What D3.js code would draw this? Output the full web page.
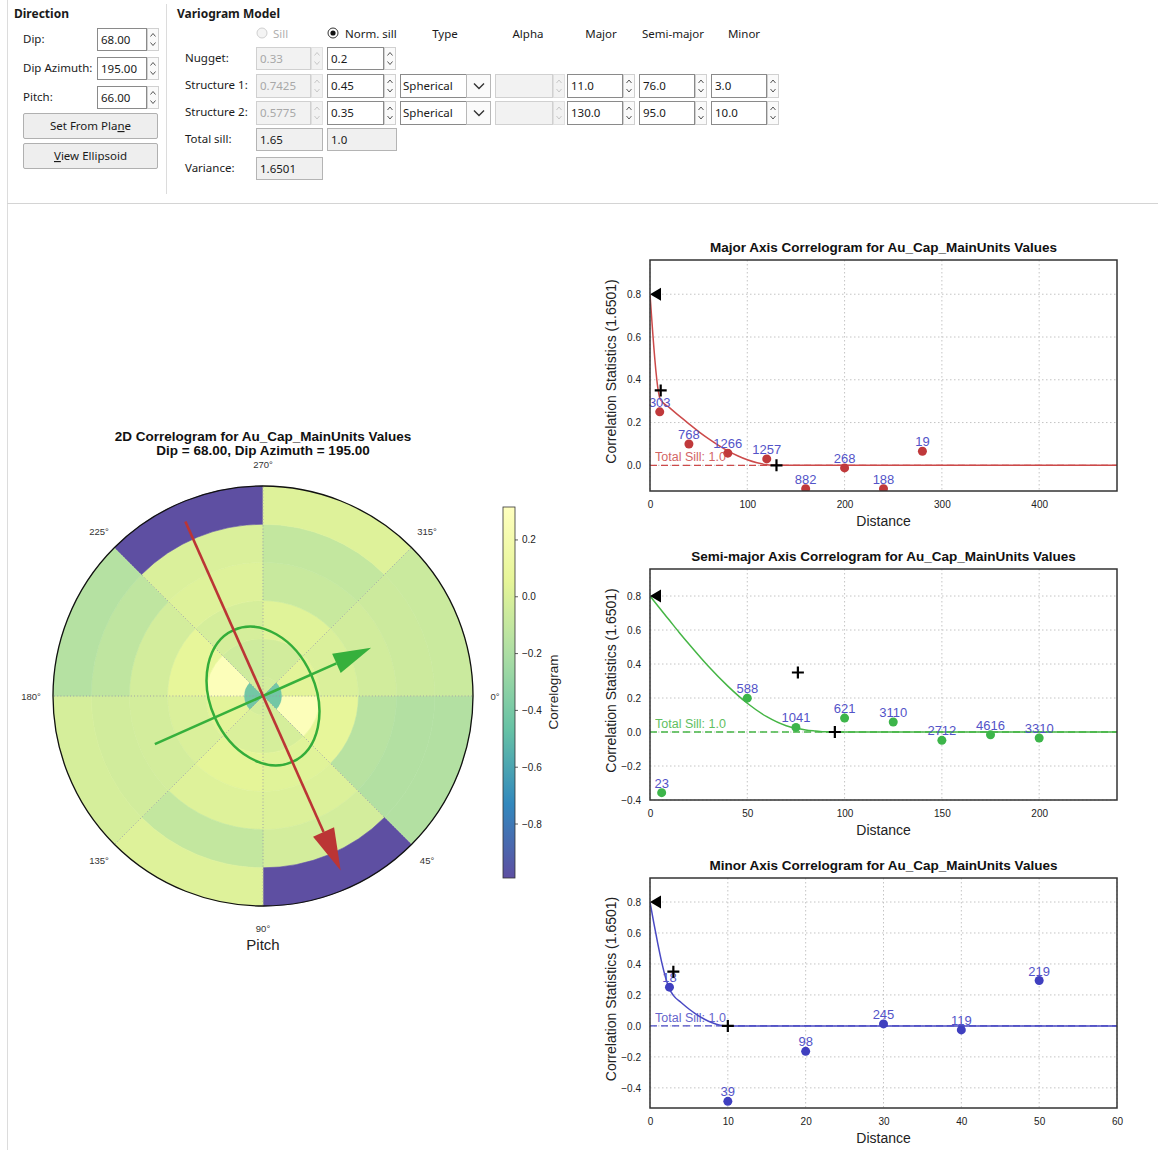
<!DOCTYPE html>
<html><head><meta charset="utf-8">
<script src="https://cdn.jsdelivr.net/npm/d3@7"></script>
<style>
html,body{margin:0;padding:0;background:#fff;}
svg{display:block;}
</style></head><body>
<svg id="c" width="1158" height="1150"></svg>
<script>
// ================= DATA =================
// Top panel
const directionLabels = ["Dip:", "Dip Azimuth:", "Pitch:"];
const directionValues = ["68.00", "195.00", "66.00"];
const directionButtons = ["Set From Plane", "View Ellipsoid"];
const modelRowLabels = ["Nugget:", "Structure 1:", "Structure 2:", "Total sill:", "Variance:"];
const sillValues = ["0.33", "0.7425", "0.5775"];
const normSillValues = ["0.2", "0.45", "0.35"];
const totalSillValues = ["1.65", "1.0"];
const varianceValue = "1.6501";
const structureTypes = ["Spherical", "Spherical"];
const modelHeaders = ["Type", "Alpha", "Major", "Semi-major", "Minor"];
const rangeMajor = ["11.0", "130.0"];
const rangeSemiMajor = ["76.0", "95.0"];
const rangeMinor = ["3.0", "10.0"];

// 2D polar correlogram
const pitchBinStarts = [0, 45, 90, 135, 180, 225, 270, 315];
const pitchTickLabels = ["0°", "45°", "90°", "135°", "180°", "225°", "270°", "315°"];
const lagEdges = [0, 0.5, 1.5, 2.5, 3.5, 4.5, 5.5];
const corrPitch0   = [-0.42, 0.28, 0.07, -0.15, -0.17, -0.17];
const corrPitch45  = [-0.03, -0.02, 0.03, 0.01, -0.03, -0.99];
const corrPitch90  = [-0.03, 0.00, 0.05, 0.02, -0.10, 0.02];
const corrPitch135 = [-0.42, 0.04, 0.00, -0.03, -0.04, -0.02];
const corrPitch180 = [-0.42, 0.28, 0.07, -0.03, -0.12, -0.16];
const corrPitch225 = [-0.03, -0.05, -0.02, 0.02, 0.00, -0.99];
const corrPitch270 = [-0.03, -0.04, 0.03, -0.08, -0.10, 0.02];
const corrPitch315 = [-0.42, 0.04, 0.00, -0.04, -0.06, -0.07];
const pitchAngle = 66;
const majorArrowLag = 5.0, minorArrowLag = 3.1;
const ellipseMajorLag = 1.89, ellipseSemiLag = 1.38;
const colorbarDomain = [-0.99, 0.316];
const colorbarTicks = [0.2, 0.0, -0.2, -0.4, -0.6, -0.8];
const colorStops = ["#5e4fa2", "#3288bd", "#66c2a5", "#abdda4", "#e6f598", "#ffffbf"];

// Major axis
const majorDistance = [10, 40, 80, 120, 160, 200, 240, 280];
const majorCorr = [0.25, 0.10, 0.057, 0.03, -0.109, -0.012, -0.109, 0.066];
const majorPairs = [303, 768, 1266, 1257, 882, 268, 188, 19];
const majorModelDist = [0, 1, 2, 3, 4, 5, 6, 7, 8, 9, 10, 11, 20, 30, 40, 50, 60, 70, 80, 90, 100, 110, 120, 130, 480];
const majorModelCorr = [0.8, 0.735, 0.671, 0.608, 0.549, 0.494, 0.444, 0.400, 0.363, 0.335, 0.315, 0.306, 0.270, 0.231, 0.194, 0.158, 0.125, 0.095, 0.068, 0.045, 0.026, 0.012, 0.003, 0, 0];
const majorPlusX = [11, 130], majorPlusY = [0.35, 0];
const majorXTicks = [0, 100, 200, 300, 400];
const majorYTicks = [0.0, 0.2, 0.4, 0.6, 0.8];

// Semi-major axis
const semiDistance = [6, 50, 75, 100, 125, 150, 175, 200];
const semiCorr = [-0.357, 0.199, 0.027, 0.082, 0.059, -0.049, -0.016, -0.035];
const semiPairs = [23, 588, 1041, 621, 3110, 2712, 4616, 3310];
const semiModelDist = [0, 5, 10, 15, 20, 30, 40, 50, 60, 70, 76, 80, 85, 90, 95, 240];
const semiModelCorr = [0.8, 0.728, 0.657, 0.586, 0.518, 0.387, 0.270, 0.169, 0.090, 0.037, 0.020, 0.012, 0.006, 0.001, 0, 0];
const semiPlusX = [76, 95], semiPlusY = [0.35, 0];
const semiXTicks = [0, 50, 100, 150, 200];
const semiYTicks = [-0.4, -0.2, 0.0, 0.2, 0.4, 0.6, 0.8];

// Minor axis
const minorDistance = [2.5, 10, 20, 30, 40, 50];
const minorCorr = [0.25, -0.487, -0.164, 0.013, -0.026, 0.293];
const minorPairs = [18, 39, 98, 245, 119, 219];
const minorModelDist = [0, 0.5, 1, 1.5, 2, 2.5, 3, 4, 5, 6, 7, 8, 9, 10, 60];
const minorModelCorr = [0.8, 0.662, 0.531, 0.412, 0.313, 0.239, 0.197, 0.151, 0.109, 0.073, 0.043, 0.020, 0.005, 0, 0];
const minorPlusX = [3, 10], minorPlusY = [0.35, 0];
const minorXTicks = [0, 10, 20, 30, 40, 50, 60];
const minorYTicks = [-0.4, -0.2, 0.0, 0.2, 0.4, 0.6, 0.8];

const nuggetCorr = 0.8;
const totalSillLabel = "Total Sill: 1.0";

// ================= DRAWING =================
const svg = d3.select("#c");
const UI_FONT = "'Noto Sans', 'Open Sans', sans-serif";
const CH_FONT = "'Liberation Sans', Arial, sans-serif";
const defs = svg.append("defs");
svg.append("rect").attr("width", 1158).attr("height", 1150).attr("fill", "#fff");

// ---- separators ----
svg.append("line").attr("x1", 7.5).attr("x2", 7.5).attr("y1", 0).attr("y2", 1150).attr("stroke", "#dcdcdc");
svg.append("line").attr("x1", 7).attr("x2", 1158).attr("y1", 203.5).attr("y2", 203.5).attr("stroke", "#d4d4d4");
svg.append("line").attr("x1", 166.5).attr("x2", 166.5).attr("y1", 4).attr("y2", 194).attr("stroke", "#dcdcdc");

function uiText(x, y, t, opts = {}) {
  return svg.append("text").attr("x", x).attr("y", y).text(t)
    .attr("font-family", UI_FONT).attr("font-size", opts.size || 11.5)
    .attr("font-weight", opts.bold ? "bold" : "normal")
    .attr("fill", opts.color || "#1a1a1a")
    .attr("text-anchor", opts.anchor || "start");
}
function spinBox(x, y, w, h, text, disabled) {
  const g = svg.append("g");
  g.append("rect").attr("x", x + 0.5).attr("y", y + 0.5).attr("width", w).attr("height", h)
    .attr("fill", disabled ? "#f2f2f2" : "#fff").attr("stroke", disabled ? "#d0d0d0" : "#8a8a8a");
  const sx = x + w + 1;
  g.append("rect").attr("x", sx + 0.5).attr("y", y + 0.5).attr("width", 11).attr("height", h)
    .attr("fill", disabled ? "#f2f2f2" : "#fafafa").attr("stroke", disabled ? "#e0e0e0" : "#d0d0d0");
  const cy = y + h / 2 + 0.5, ac = disabled ? "#c8c8c8" : "#555";
  g.append("path").attr("d", `M${sx + 3.5},${cy - 3} L${sx + 6},${cy - 6} L${sx + 8.5},${cy - 3}`).attr("fill", "none").attr("stroke", ac);
  g.append("path").attr("d", `M${sx + 3.5},${cy + 3} L${sx + 6},${cy + 6} L${sx + 8.5},${cy + 3}`).attr("fill", "none").attr("stroke", ac);
  if (text) uiText(x + 4, y + h / 2 + 4.5, text, { color: disabled ? "#a8a8a8" : "#1a1a1a" });
}
function plainBox(x, y, w, h, text) {
  svg.append("rect").attr("x", x + 0.5).attr("y", y + 0.5).attr("width", w).attr("height", h)
    .attr("fill", "#f0f0f0").attr("stroke", "#b4b4b4");
  uiText(x + 4, y + h / 2 + 4.5, text);
}

// Direction group
uiText(14, 18, "Direction", { bold: true, size: 12 });
const dirRowsY = [28, 57, 86];
directionLabels.forEach((l, i) => {
  uiText(23, dirRowsY[i] + 15, l);
  spinBox(97, dirRowsY[i], 49, 22, directionValues[i], false);
});
const btnY = [113, 143];
directionButtons.forEach((b, i) => {
  svg.append("rect").attr("x", 23.5).attr("y", btnY[i] + 0.5).attr("width", 134).attr("height", 25).attr("rx", 1.5)
    .attr("fill", "#eeeeee").attr("stroke", "#b0b0b0");
  const t = svg.append("text").attr("x", 90.5).attr("y", btnY[i] + 17).attr("text-anchor", "middle")
    .attr("font-family", UI_FONT).attr("font-size", 11.5).attr("fill", "#1a1a1a");
  if (i === 0) {
    t.append("tspan").text("Set From Pla");
    t.append("tspan").text("n").attr("text-decoration", "underline");
    t.append("tspan").text("e");
  } else {
    t.append("tspan").text("V").attr("text-decoration", "underline");
    t.append("tspan").text("iew Ellipsoid");
  }
});

// Variogram model group
uiText(177, 18, "Variogram Model", { bold: true, size: 12 });
svg.append("circle").attr("cx", 262).attr("cy", 33).attr("r", 5).attr("fill", "#f4f4f4").attr("stroke", "#d0d0d0");
uiText(273, 38, "Sill", { color: "#b0b0b0" });
svg.append("circle").attr("cx", 333).attr("cy", 33).attr("r", 5).attr("fill", "#fff").attr("stroke", "#333");
svg.append("circle").attr("cx", 333).attr("cy", 33).attr("r", 2.6).attr("fill", "#111");
uiText(345, 38, "Norm. sill");
const headerX = [445, 528, 601, 673, 744];
modelHeaders.forEach((h, i) => uiText(headerX[i], 38, h, { anchor: "middle" }));
const rowY = [47, 74, 101, 128, 157];
const rowH = [22, 23, 23, 22, 22];
modelRowLabels.forEach((l, i) => uiText(185, rowY[i] + 15, l));
for (let i = 0; i < 3; i++) {
  spinBox(256, rowY[i], 54, rowH[i], sillValues[i], true);
  spinBox(327, rowY[i], 56, rowH[i], normSillValues[i], false);
}
for (let k = 0; k < 2; k++) {
  const y = rowY[k + 1], h = rowH[k + 1];
  svg.append("rect").attr("x", 400.5).attr("y", y + 0.5).attr("width", 66).attr("height", h).attr("fill", "#fff").attr("stroke", "#8a8a8a");
  svg.append("rect").attr("x", 466.5).attr("y", y + 0.5).attr("width", 24).attr("height", h).attr("fill", "#fafafa").attr("stroke", "#b8b8b8");
  svg.append("path").attr("d", `M${474},${y + h / 2 - 2} L${479},${y + h / 2 + 3} L${484},${y + h / 2 - 2}`)
    .attr("fill", "none").attr("stroke", "#333").attr("stroke-width", 1.4);
  uiText(403, y + h / 2 + 4.5, structureTypes[k]);
  spinBox(495, y, 57, h, "", true);
  spinBox(567, y, 55, h, rangeMajor[k], false);
  spinBox(639, y, 55, h, rangeSemiMajor[k], false);
  spinBox(711, y, 55, h, rangeMinor[k], false);
}
plainBox(256, rowY[3], 66, rowH[3], totalSillValues[0]);
plainBox(327, rowY[3], 69, rowH[3], totalSillValues[1]);
plainBox(256, rowY[4], 66, rowH[4], varianceValue);

// ---- color scale ----
const cbStep = (colorbarDomain[1] - colorbarDomain[0]) / (colorStops.length - 1);
const color = d3.scaleLinear()
  .domain(colorStops.map((c, i) => colorbarDomain[0] + i * cbStep))
  .range(colorStops).clamp(true);

// ---- Polar chart ----
const chartText = (g, x, y, t, size, opts = {}) => g.append("text").attr("x", x).attr("y", y).text(t)
  .attr("font-family", CH_FONT).attr("font-size", size).attr("font-weight", opts.bold ? "bold" : "normal")
  .attr("fill", opts.color || "#111").attr("text-anchor", opts.anchor || "middle");

chartText(svg, 263, 441, "2D Correlogram for Au_Cap_MainUnits Values", 13.5, { bold: true });
chartText(svg, 263, 455, "Dip = 68.00, Dip Azimuth = 195.00", 13.5, { bold: true });

const gp = svg.append("g").attr("transform", "translate(263,696)");
const rScale = d3.scaleLinear().domain([0, lagEdges[lagEdges.length - 1]]).range([0, 210]);
const arcAngle = d3.scaleLinear().domain([0, 360]).range([Math.PI / 2, Math.PI / 2 + 2 * Math.PI]);
const corrGrid = [corrPitch0, corrPitch45, corrPitch90, corrPitch135, corrPitch180, corrPitch225, corrPitch270, corrPitch315];
const cells = [];
pitchBinStarts.forEach((a, i) => corrGrid[i].forEach((v, j) => cells.push({ a, j, v })));
const arcGen = d3.arc();
gp.selectAll("path.cell").data(cells).join("path").attr("class", "cell")
  .attr("d", d => arcGen({ innerRadius: rScale(lagEdges[d.j]), outerRadius: rScale(lagEdges[d.j + 1]), startAngle: arcAngle(d.a), endAngle: arcAngle(d.a + 45) }))
  .attr("fill", d => color(d.v)).attr("stroke", d => color(d.v)).attr("stroke-width", 0.6);
const polarPt = (deg, lag) => [rScale(lag) * Math.cos(deg * Math.PI / 180), rScale(lag) * Math.sin(deg * Math.PI / 180)];
const rMax = lagEdges[lagEdges.length - 1];
gp.selectAll("line.rgrid").data(pitchBinStarts).join("line").attr("class", "rgrid")
  .attr("x1", 0).attr("y1", 0)
  .attr("x2", d => polarPt(d, rMax)[0]).attr("y2", d => polarPt(d, rMax)[1])
  .attr("stroke", "#9a9aaa").attr("stroke-width", 0.9).attr("stroke-dasharray", "1,2.2");
gp.append("circle").attr("r", rScale(rMax)).attr("fill", "none").attr("stroke", "#111").attr("stroke-width", 1.3);
gp.selectAll("text.ang").data(pitchBinStarts).join("text").attr("class", "ang")
  .attr("x", d => polarPt(d, rMax * 232 / 210)[0]).attr("y", d => polarPt(d, rMax * 232 / 210)[1] + 3.5)
  .attr("text-anchor", "middle").attr("font-family", CH_FONT).attr("font-size", 9.5).attr("fill", "#333")
  .text((d, i) => pitchTickLabels[i]);

// ellipse
gp.append("ellipse").attr("rx", rScale(ellipseMajorLag)).attr("ry", rScale(ellipseSemiLag))
  .attr("transform", `rotate(${pitchAngle})`).attr("fill", "none").attr("stroke", "#34ad3a").attr("stroke-width", 2.5);
function arrow(angleDeg, lag, col, headLen, headHalf) {
  const t = angleDeg * Math.PI / 180, ux = Math.cos(t), uy = Math.sin(t);
  const L = rScale(lag);
  const tip = [L * ux, L * uy];
  const base = [tip[0] - headLen * ux, tip[1] - headLen * uy];
  gp.append("line").attr("x1", -L * ux).attr("y1", -L * uy).attr("x2", base[0]).attr("y2", base[1])
    .attr("stroke", col).attr("stroke-width", 2.6);
  gp.append("path").attr("d", `M${tip[0]},${tip[1]} L${base[0] - uy * headHalf},${base[1] + ux * headHalf} L${base[0] + uy * headHalf},${base[1] - ux * headHalf} Z`)
    .attr("fill", col);
}
arrow(pitchAngle - 90, minorArrowLag, "#36b03c", 38, 10.5);
arrow(pitchAngle, majorArrowLag, "#bb3535", 42, 11.5);
chartText(svg, 263, 950, "Pitch", 15, { color: "#222" });

// colorbar
const grad = defs.append("linearGradient").attr("id", "cbar").attr("x1", 0).attr("y1", 1).attr("x2", 0).attr("y2", 0);
d3.range(0, 1.0001, 0.04).forEach(t => grad.append("stop").attr("offset", t)
  .attr("stop-color", color(colorbarDomain[0] + t * (colorbarDomain[1] - colorbarDomain[0]))));
const cbY = d3.scaleLinear().domain(colorbarDomain).range([878, 507]);
svg.append("rect").attr("x", 503).attr("y", 507).attr("width", 12).attr("height", 371)
  .attr("fill", "url(#cbar)").attr("stroke", "#333").attr("stroke-width", 0.8);
const cbFmt = d3.format(".1f");
colorbarTicks.forEach(v => {
  svg.append("line").attr("x1", 515).attr("x2", 518).attr("y1", cbY(v)).attr("y2", cbY(v)).attr("stroke", "#333").attr("stroke-width", 0.8);
  chartText(svg, 522, cbY(v) + 3.5, cbFmt(v), 10, { anchor: "start", color: "#222" });
});
chartText(svg, 0, 0, "Correlogram", 13.5, { color: "#222" }).attr("transform", "translate(558,692) rotate(-90)");

// ---- 1D correlograms ----
function correlogram(cfg) {
  const g = svg.append("g");
  const L = 650, R = 1117;
  const x = d3.scaleLinear().domain(cfg.xDomain).range([L, R]);
  const y = d3.scaleLinear().domain(cfg.yDomain).range([cfg.bottom, cfg.top]);
  const fmtY = d3.format(".1f");
  // grid
  g.selectAll("line.gx").data(cfg.xTicks).join("line").attr("x1", d => x(d)).attr("x2", d => x(d))
    .attr("y1", cfg.top).attr("y2", cfg.bottom).attr("stroke", "#c4c4c4").attr("stroke-dasharray", "1.5,2.5");
  g.selectAll("line.gy").data(cfg.yTicks).join("line").attr("y1", d => y(d)).attr("y2", d => y(d))
    .attr("x1", L).attr("x2", R).attr("stroke", "#c4c4c4").attr("stroke-dasharray", "1.5,2.5");
  // axes
  const ax = g.append("g").attr("transform", `translate(0,${cfg.bottom})`)
    .call(d3.axisBottom(x).tickValues(cfg.xTicks).tickSize(0).tickPadding(10).tickFormat(d3.format("d")));
  const ay = g.append("g").attr("transform", `translate(${L},0)`)
    .call(d3.axisLeft(y).tickValues(cfg.yTicks).tickSize(0).tickPadding(9).tickFormat(fmtY));
  [ax, ay].forEach(a => {
    a.select(".domain").remove();
    a.selectAll("text").attr("font-family", CH_FONT).attr("font-size", 10).attr("fill", "#222");
  });
  // clip
  const cid = "clip" + cfg.id;
  defs.append("clipPath").attr("id", cid).append("rect").attr("x", L).attr("y", cfg.top).attr("width", R - L).attr("height", cfg.bottom - cfg.top);
  const pg = g.append("g").attr("clip-path", `url(#${cid})`);
  // sill line
  pg.append("line").attr("x1", x(cfg.xDomain[0])).attr("x2", x(cfg.xDomain[1])).attr("y1", y(0)).attr("y2", y(0))
    .attr("stroke", cfg.color).attr("stroke-width", 1.4).attr("stroke-dasharray", "7,4");
  // model curve
  const line = d3.line().x(d => x(d[0])).y(d => y(d[1])).curve(d3.curveMonotoneX);
  pg.append("path").datum(cfg.modelX.map((d, i) => [d, cfg.modelY[i]])).attr("d", line)
    .attr("fill", "none").attr("stroke", cfg.color).attr("stroke-width", 1.5);
  // points
  pg.selectAll("circle.pt").data(cfg.px.map((d, i) => [d, cfg.py[i]])).join("circle").attr("class", "pt")
    .attr("cx", d => x(d[0])).attr("cy", d => y(d[1])).attr("r", 4.5).attr("fill", cfg.dotColor);
  // total sill label
  chartText(g, L + 5, y(0) - 4, totalSillLabel, 12.5, { anchor: "start", color: cfg.color }).attr("opacity", 0.85);
  // pair labels
  g.selectAll("text.pl").data(cfg.pairs).join("text").attr("class", "pl")
    .attr("x", (d, i) => x(cfg.px[i])).attr("y", (d, i) => y(cfg.py[i]) - 5)
    .attr("text-anchor", "middle").attr("font-family", CH_FONT).attr("font-size", 13).attr("fill", "#5353c8")
    .text(d => d);
  // nugget triangle
  const tx = x(0), ty = y(nuggetCorr);
  g.append("path").attr("d", `M${tx},${ty} L${tx + 11},${ty - 6.5} L${tx + 11},${ty + 6.5} Z`).attr("fill", "#000");
  // plus markers
  cfg.plusX.forEach((px, i) => {
    const cx = x(px), cy = y(cfg.plusY[i]);
    g.append("path").attr("d", `M${cx - 6},${cy} H${cx + 6} M${cx},${cy - 6} V${cy + 6}`)
      .attr("stroke", "#000").attr("stroke-width", 2.2);
  });
  // frame
  g.append("rect").attr("x", L).attr("y", cfg.top).attr("width", R - L).attr("height", cfg.bottom - cfg.top)
    .attr("fill", "none").attr("stroke", "#333").attr("stroke-width", 1.5);
  // titles
  chartText(g, (L + R) / 2, cfg.top - 8, cfg.title, 13.5, { bold: true });
  chartText(g, (L + R) / 2, cfg.bottom + 35, "Distance", 14, { color: "#222" });
  chartText(g, 0, 0, "Correlation Statistics (1.6501)", 14, { color: "#222" })
    .attr("transform", `translate(616,${(cfg.top + cfg.bottom) / 2 - 4}) rotate(-90)`);
}

correlogram({ id: "maj", title: "Major Axis Correlogram for Au_Cap_MainUnits Values", top: 260, bottom: 491,
  xDomain: [0, 480], yDomain: [-0.12, 0.96], xTicks: majorXTicks, yTicks: majorYTicks,
  px: majorDistance, py: majorCorr, pairs: majorPairs, modelX: majorModelDist, modelY: majorModelCorr,
  plusX: majorPlusX, plusY: majorPlusY, color: "#cc4a4a", dotColor: "#c0393b" });
correlogram({ id: "semi", title: "Semi-major Axis Correlogram for Au_Cap_MainUnits Values", top: 569, bottom: 800,
  xDomain: [0, 240], yDomain: [-0.4, 0.959], xTicks: semiXTicks, yTicks: semiYTicks,
  px: semiDistance, py: semiCorr, pairs: semiPairs, modelX: semiModelDist, modelY: semiModelCorr,
  plusX: semiPlusX, plusY: semiPlusY, color: "#45b545", dotColor: "#3db54a" });
correlogram({ id: "min", title: "Minor Axis Correlogram for Au_Cap_MainUnits Values", top: 878, bottom: 1108,
  xDomain: [0, 60], yDomain: [-0.53, 0.955], xTicks: minorXTicks, yTicks: minorYTicks,
  px: minorDistance, py: minorCorr, pairs: minorPairs, modelX: minorModelDist, modelY: minorModelCorr,
  plusX: minorPlusX, plusY: minorPlusY, color: "#4a4ac4", dotColor: "#3f3fbf" });
</script>
</body></html>
